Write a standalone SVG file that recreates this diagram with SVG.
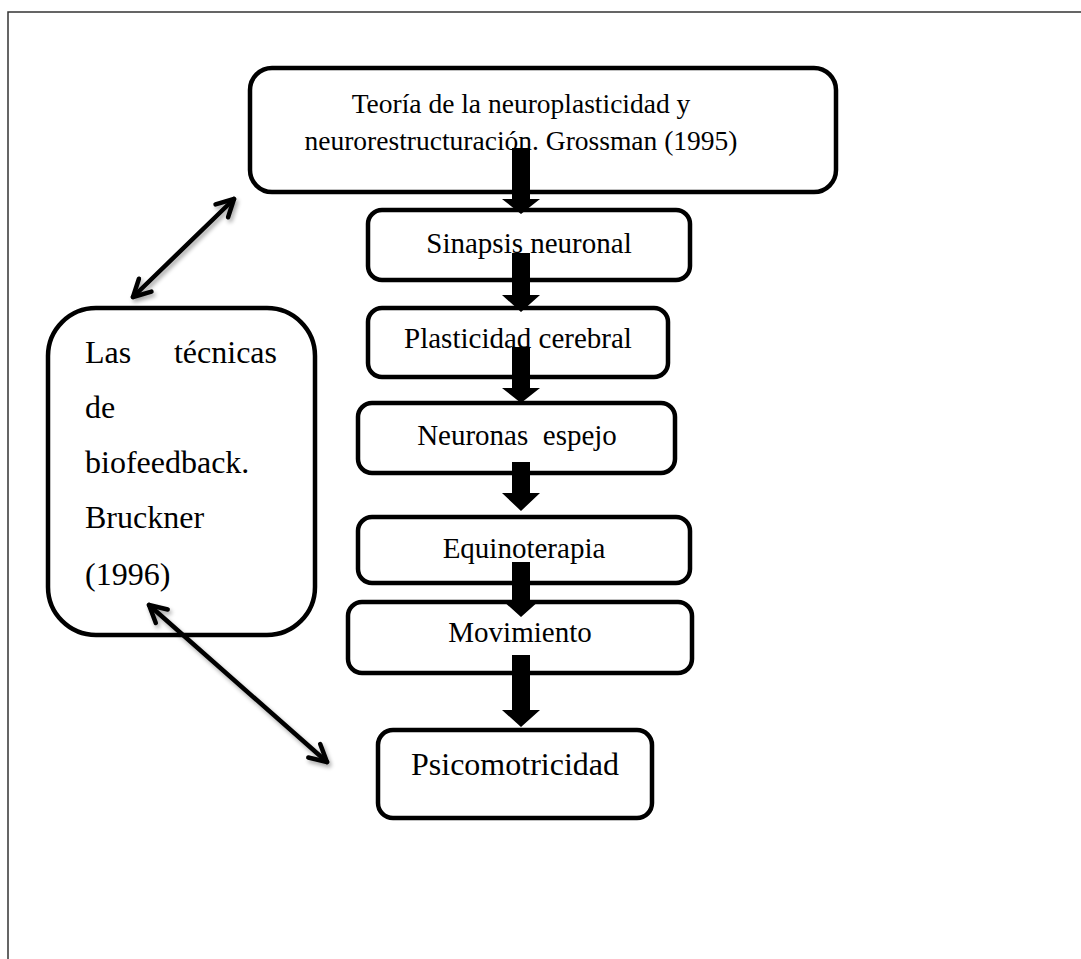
<svg xmlns="http://www.w3.org/2000/svg" width="1081" height="959" viewBox="0 0 1081 959">
  <style>
    .box { fill: #fff; stroke: #000; stroke-width: 4.5; }
    .lbl { font-family: "Liberation Serif", "Times New Roman", serif; fill: #000; }
    .t27 { font-size: 27.5px; }
    .t29 { font-size: 29px; }
    .t32 { font-size: 32px; }
    .frame { stroke: #333; stroke-width: 1.5; fill: none; }
    .link { stroke: #000; stroke-width: 4.5; fill: none; stroke-linecap: round; stroke-linejoin: round; }
    .block { fill: #000; }
  </style>
  <defs>
    <marker id="chev" viewBox="0 0 24 24" refX="21" refY="12" markerWidth="24" markerHeight="24" markerUnits="userSpaceOnUse" orient="auto-start-reverse">
      <path d="M4,3 L21,12 L4,21" fill="none" stroke="#000" stroke-width="4.5" stroke-linecap="round" stroke-linejoin="round"/>
    </marker>
    <filter id="soft" x="-20%" y="-20%" width="140%" height="140%">
      <feGaussianBlur in="SourceAlpha" stdDeviation="2"/>
      <feOffset dx="2" dy="3" result="b"/>
      <feComponentTransfer><feFuncA type="linear" slope="0.35"/></feComponentTransfer>
      <feMerge><feMergeNode/><feMergeNode in="SourceGraphic"/></feMerge>
    </filter>
  </defs>

  <rect width="1081" height="959" fill="#fff"/>
  <!-- page frame -->
  <path class="frame" d="M8,959 L8,12 L1081,12"/>

  <g id="n-teoria">
    <rect class="box" x="250" y="68" width="586" height="124" rx="22"/>
    <text class="lbl t27" x="521" y="113" text-anchor="middle">Teoría de la neuroplasticidad y</text>
    <text class="lbl t27" x="521" y="150" text-anchor="middle">neurorestructuración. Grossman (1995)</text>
  </g>
  <g id="n-sinapsis">
    <rect class="box" x="368" y="210" width="322" height="70" rx="14"/>
    <text class="lbl t29" x="529" y="253" text-anchor="middle">Sinapsis neuronal</text>
  </g>
  <g id="n-plasticidad">
    <rect class="box" x="368" y="308" width="300" height="69" rx="14"/>
    <text class="lbl t29" x="518" y="348" text-anchor="middle">Plasticidad cerebral</text>
  </g>
  <g id="n-neuronas">
    <rect class="box" x="358" y="403" width="317" height="70" rx="14"/>
    <text class="lbl t29" x="517" y="445" text-anchor="middle" xml:space="preserve">Neuronas  espejo</text>
  </g>
  <g id="n-equinoterapia">
    <rect class="box" x="358" y="517" width="332" height="66" rx="14"/>
    <text class="lbl t29" x="524" y="558" text-anchor="middle">Equinoterapia</text>
  </g>
  <g id="n-movimiento">
    <rect class="box" x="348" y="602" width="344" height="71" rx="14"/>
    <text class="lbl t29" x="520" y="642" text-anchor="middle">Movimiento</text>
  </g>
  <g id="n-psicomotricidad">
    <rect class="box" x="378" y="730" width="274" height="88" rx="15"/>
    <text class="lbl t32" x="515" y="775" text-anchor="middle">Psicomotricidad</text>
  </g>
  <g id="n-biofeedback">
    <rect class="box" x="48" y="308" width="267" height="327" rx="48"/>
    <text class="lbl t32" x="85" y="363">Las</text>
    <text class="lbl t32" x="277" y="363" text-anchor="end">técnicas</text>
    <text class="lbl t32" x="85" y="418">de</text>
    <text class="lbl t32" x="85" y="473">biofeedback.</text>
    <text class="lbl t32" x="85" y="528">Bruckner</text>
    <text class="lbl t32" x="85" y="585">(1996)</text>
  </g>

  <g id="connectors">
    <!-- block arrows down the main chain -->
    <path class="block" d="M512,148 H530 V199 H540 L521,214 L502,199 H512 Z"/>
    <path class="block" d="M512,253 H530 V295 H540 L521,312 L502,295 H512 Z"/>
    <path class="block" d="M512,347 H530 V388 H540 L521,403 L502,388 H512 Z"/>
    <path class="block" d="M512,462 H530 V493 H540 L521,511 L502,493 H512 Z"/>
    <path class="block" d="M512,562 H530 V600 H540 L521,617 L502,600 H512 Z"/>
    <path class="block" d="M512,655 H530 V710 H540 L521,727 L502,710 H512 Z"/>
    <!-- two-way links from the biofeedback box -->
    <line class="link" x1="133" y1="297" x2="234" y2="199" marker-start="url(#chev)" marker-end="url(#chev)" filter="url(#soft)"/>
    <line class="link" x1="149" y1="605" x2="327" y2="762" marker-start="url(#chev)" marker-end="url(#chev)" filter="url(#soft)"/>
  </g>
</svg>
